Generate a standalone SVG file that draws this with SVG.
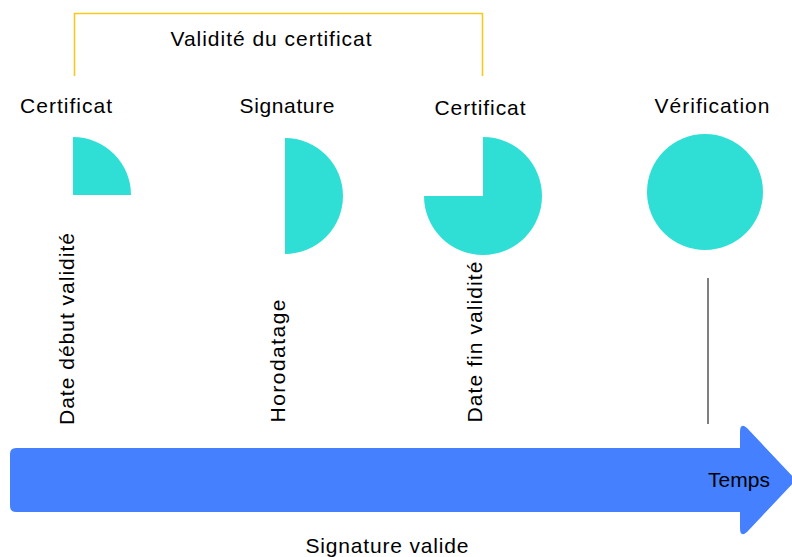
<svg xmlns="http://www.w3.org/2000/svg" width="792" height="557" viewBox="0 0 792 557">
<style>
text{font-family:"Liberation Sans","DejaVu Sans",sans-serif;font-size:21px;fill:#000}
.c{text-anchor:middle}
.shape{fill:#2fdfd6}
</style>
<rect width="792" height="557" fill="#fff"/>
<g id="bracket">
<path d="M74.5,76 V13.5 H482.5 V76" fill="none" stroke="#f7c81e" stroke-width="1.6"/>
<text class="c" x="271" y="46" textLength="201">Validité du certificat</text>
</g>
<g id="node-cert1">
<text class="c" x="66" y="113" textLength="92">Certificat</text>
<path class="shape" d="M73,137 A58,58 0 0 1 131,195 H73 Z"/>
<text class="c" transform="translate(74,329) rotate(-90)" textLength="192">Date début validité</text>
</g>
<g id="node-sign">
<text class="c" x="287" y="113" textLength="95">Signature</text>
<path class="shape" d="M285,138 A58,58 0 0 1 285,254 Z"/>
<text class="c" transform="translate(285,361) rotate(-90)" textLength="123">Horodatage</text>
</g>
<g id="node-cert2">
<text class="c" x="480" y="115" textLength="91">Certificat</text>
<path class="shape" d="M483,137 A59,59 0 1 1 424,196 H483 Z"/>
<text class="c" transform="translate(482,342) rotate(-90)" textLength="161">Date fin validité</text>
</g>
<g id="node-verif">
<text class="c" x="712" y="113" textLength="115">Vérification</text>
<circle class="shape" cx="705" cy="192" r="58"/>
</g>
<g id="connectors">
<line x1="708" y1="278" x2="708" y2="424" stroke="#555" stroke-width="1.5"/>
</g>
<g id="timeline">
<path d="M16,448 H740 V432 Q740,422 747,428 L796,480 L747,532 Q740,538 740,528 V512 H16 Q10,512 10,506 V454 Q10,448 16,448 Z" fill="#4480ff"/>
<text x="708" y="487" textLength="62">Temps</text>
<text class="c" x="387" y="553" textLength="163">Signature valide</text>
</g>
</svg>
